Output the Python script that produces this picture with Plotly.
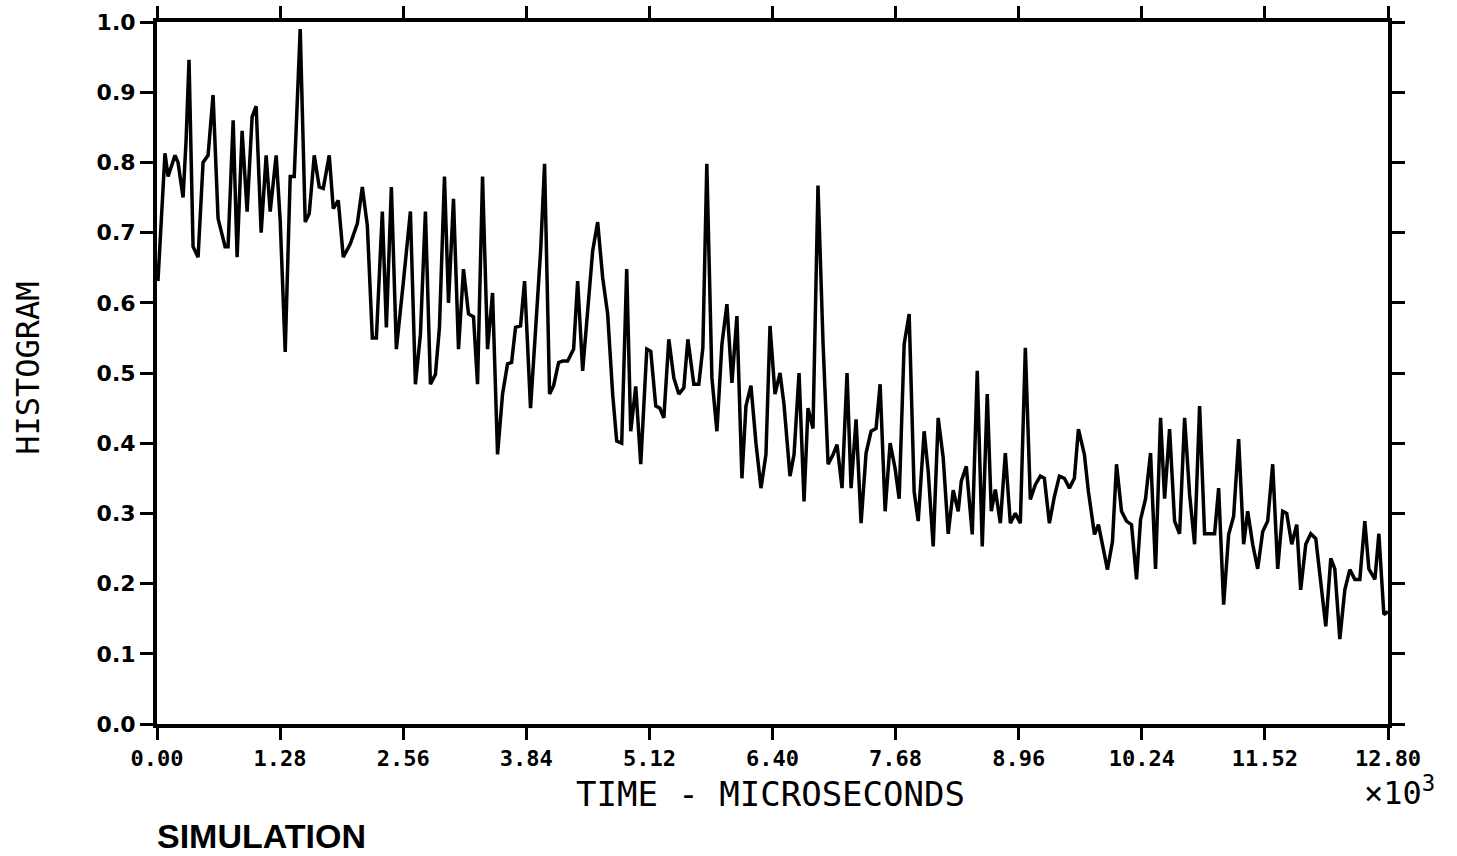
import plotly.graph_objects as go

# Time in units of 10^3 microseconds
time_k = [
    0.010, 0.083, 0.115, 0.187, 0.219, 0.271, 0.302, 0.333, 0.375, 0.427,
    0.479, 0.531, 0.583, 0.635, 0.708, 0.739, 0.792, 0.833, 0.885, 0.937,
    0.989, 1.031, 1.083, 1.135, 1.177, 1.239, 1.281, 1.333, 1.385, 1.427,
    1.489, 1.541, 1.583, 1.635, 1.687, 1.729, 1.791, 1.833, 1.885, 1.937,
    2.010, 2.083, 2.135, 2.187, 2.239, 2.281, 2.343, 2.385, 2.437, 2.489,
    2.562, 2.635, 2.687, 2.739, 2.791, 2.843, 2.895, 2.937, 2.989, 3.031,
    3.083, 3.135, 3.187, 3.239, 3.291, 3.333, 3.385, 3.437, 3.489, 3.541,
    3.593, 3.645, 3.687, 3.728, 3.780, 3.822, 3.884, 3.937, 3.989, 4.030,
    4.082, 4.124, 4.176, 4.218, 4.270, 4.332, 4.374, 4.426, 4.478, 4.530,
    4.582, 4.634, 4.686, 4.738, 4.780, 4.832, 4.884, 4.926, 4.978, 5.030,
    5.093, 5.134, 5.186, 5.228, 5.270, 5.322, 5.374, 5.426, 5.478, 5.520,
    5.582, 5.634, 5.676, 5.717, 5.770, 5.822, 5.874, 5.926, 5.978, 6.030,
    6.082, 6.124, 6.176, 6.228, 6.280, 6.332, 6.374, 6.426, 6.478, 6.519,
    6.582, 6.624, 6.676, 6.728, 6.769, 6.821, 6.873, 6.926, 6.978, 7.030,
    7.071, 7.123, 7.175, 7.217, 7.269, 7.321, 7.373, 7.425, 7.477, 7.519,
    7.571, 7.623, 7.675, 7.717, 7.769, 7.821, 7.873, 7.915, 7.977, 8.019,
    8.071, 8.123, 8.175, 8.227, 8.279, 8.331, 8.363, 8.415, 8.477, 8.529,
    8.581, 8.633, 8.675, 8.717, 8.769, 8.821, 8.873, 8.925, 8.977, 9.029,
    9.081, 9.133, 9.185, 9.227, 9.279, 9.331, 9.383, 9.435, 9.487, 9.539,
    9.581, 9.643, 9.685, 9.748, 9.789, 9.831, 9.883, 9.935, 9.977, 10.029,
    10.081, 10.133, 10.185, 10.227, 10.279, 10.331, 10.383, 10.435, 10.477, 10.529,
    10.581, 10.633, 10.685, 10.737, 10.789, 10.841, 10.893, 10.945, 10.997, 11.039,
    11.091, 11.143, 11.195, 11.247, 11.299, 11.341, 11.393, 11.445, 11.497, 11.549,
    11.601, 11.653, 11.705, 11.747, 11.799, 11.851, 11.892, 11.945, 11.997, 12.049,
    12.101, 12.153, 12.205, 12.247, 12.299, 12.351, 12.403, 12.455, 12.507, 12.559,
    12.601, 12.664, 12.705, 12.757, 12.800,
]

histogram = [
    0.631, 0.813, 0.780, 0.810, 0.800, 0.750, 0.830, 0.946, 0.680, 0.665,
    0.800, 0.810, 0.896, 0.720, 0.680, 0.680, 0.860, 0.665, 0.845, 0.730,
    0.865, 0.880, 0.700, 0.810, 0.730, 0.810, 0.717, 0.530, 0.780, 0.780,
    0.990, 0.715, 0.727, 0.810, 0.765, 0.763, 0.810, 0.734, 0.746, 0.665,
    0.684, 0.713, 0.765, 0.710, 0.550, 0.550, 0.730, 0.565, 0.765, 0.534,
    0.630, 0.730, 0.484, 0.555, 0.730, 0.484, 0.498, 0.565, 0.780, 0.600,
    0.748, 0.534, 0.648, 0.584, 0.580, 0.484, 0.780, 0.534, 0.614, 0.384,
    0.470, 0.513, 0.515, 0.565, 0.567, 0.631, 0.450, 0.560, 0.674, 0.798,
    0.470, 0.482, 0.515, 0.517, 0.517, 0.534, 0.631, 0.503, 0.584, 0.674,
    0.715, 0.636, 0.584, 0.470, 0.403, 0.400, 0.648, 0.417, 0.481, 0.370,
    0.534, 0.531, 0.453, 0.450, 0.436, 0.548, 0.493, 0.470, 0.479, 0.548,
    0.484, 0.484, 0.536, 0.798, 0.493, 0.417, 0.541, 0.598, 0.486, 0.581,
    0.350, 0.453, 0.482, 0.400, 0.336, 0.384, 0.567, 0.470, 0.500, 0.456,
    0.353, 0.384, 0.500, 0.317, 0.450, 0.421, 0.767, 0.541, 0.370, 0.384,
    0.398, 0.336, 0.500, 0.336, 0.434, 0.286, 0.386, 0.417, 0.421, 0.484,
    0.303, 0.400, 0.364, 0.321, 0.541, 0.584, 0.331, 0.289, 0.417, 0.360,
    0.253, 0.436, 0.379, 0.271, 0.333, 0.303, 0.346, 0.367, 0.270, 0.503,
    0.253, 0.470, 0.303, 0.334, 0.286, 0.386, 0.286, 0.300, 0.286, 0.536,
    0.320, 0.341, 0.353, 0.350, 0.286, 0.324, 0.353, 0.350, 0.336, 0.350,
    0.420, 0.384, 0.331, 0.270, 0.284, 0.256, 0.220, 0.260, 0.370, 0.303,
    0.289, 0.284, 0.206, 0.291, 0.321, 0.386, 0.221, 0.436, 0.321, 0.420,
    0.289, 0.271, 0.436, 0.327, 0.256, 0.453, 0.271, 0.271, 0.271, 0.336,
    0.170, 0.270, 0.296, 0.406, 0.256, 0.303, 0.256, 0.221, 0.274, 0.289,
    0.370, 0.221, 0.303, 0.300, 0.256, 0.284, 0.191, 0.256, 0.271, 0.264,
    0.199, 0.139, 0.236, 0.221, 0.121, 0.191, 0.220, 0.206, 0.206, 0.289,
    0.221, 0.206, 0.271, 0.156, 0.160,
]

x_tick_vals = [0.0, 1.28, 2.56, 3.84, 5.12, 6.40, 7.68, 8.96, 10.24, 11.52, 12.80]
x_tick_text = ["0.00", "1.28", "2.56", "3.84", "5.12", "6.40", "7.68", "8.96", "10.24", "11.52", "12.80"]
y_tick_vals = [0.0, 0.1, 0.2, 0.3, 0.4, 0.5, 0.6, 0.7, 0.8, 0.9, 1.0]
y_tick_text = ["0.0", "0.1", "0.2", "0.3", "0.4", "0.5", "0.6", "0.7", "0.8", "0.9", "1.0"]

MONO = "DejaVu Sans Mono, monospace"

fig = go.Figure()
fig.add_trace(go.Scatter(
    x=time_k, y=histogram, mode="lines",
    line=dict(color="black", width=3.5),
    showlegend=False, hoverinfo="skip",
))

fig.update_layout(
    width=1457, height=856,
    margin=dict(l=157, r=69, t=22, b=132, autoexpand=False),
    paper_bgcolor="white", plot_bgcolor="white",
    xaxis=dict(
        range=[0, 12.8], tickvals=x_tick_vals, ticktext=x_tick_text,
        showgrid=False, zeroline=False, automargin=False,
        showline=True, linecolor="black", linewidth=4, mirror="ticks",
        ticks="outside", ticklen=12, tickwidth=3, tickcolor="black",
        tickfont=dict(family=MONO, size=22, color="black", weight="bold"),
    ),
    yaxis=dict(
        range=[0, 1.0], tickvals=y_tick_vals, ticktext=y_tick_text,
        showgrid=False, zeroline=False, automargin=False,
        showline=True, linecolor="black", linewidth=4, mirror="ticks",
        ticks="outside", ticklen=13, tickwidth=3, tickcolor="black",
        tickfont=dict(family="DejaVu Sans, sans-serif", size=22, color="black", weight="bold"),
    ),
    annotations=[
        dict(text="TIME - MICROSECONDS", xref="paper", yref="paper",
             x=0.498, y=-0.1, xanchor="center", yanchor="middle",
             showarrow=False, font=dict(family=MONO, size=34, color="black")),
        dict(text="\u00d710<sup>3</sup>", xref="paper", yref="paper",
             x=0.979, y=-0.096, xanchor="left", yanchor="middle",
             showarrow=False, font=dict(family=MONO, size=32, color="black")),
        dict(text="SIMULATION", xref="paper", yref="paper",
             x=-0.002, y=-0.16, xanchor="left", yanchor="middle",
             showarrow=False,
             font=dict(family="Liberation Sans, Arial, sans-serif", size=34,
                       color="black", weight="bold")),
        dict(text="HISTOGRAM", xref="paper", yref="paper",
             x=-0.105, y=0.507, xanchor="center", yanchor="middle",
             textangle=-90, showarrow=False,
             font=dict(family=MONO, size=32, color="black")),
    ],
)

fig.write_html("out.html")
